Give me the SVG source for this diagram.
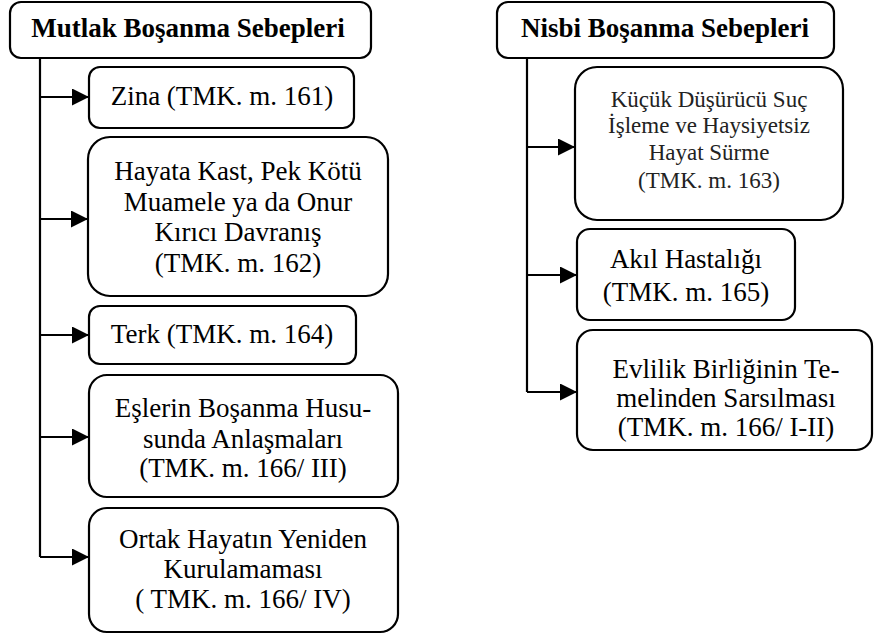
<svg xmlns="http://www.w3.org/2000/svg" width="874" height="636" viewBox="0 0 874 636">
<defs>
<marker id="ah" viewBox="0 0 16 16" refX="16" refY="8" markerWidth="17" markerHeight="17" markerUnits="userSpaceOnUse" orient="auto">
<path d="M0,0 L16,8 L0,16 Z" fill="#000"/>
</marker>
<style>
.box{fill:#fff;stroke:#000;stroke-width:2.2}
.t{fill:#000;text-anchor:middle}
.b{font-weight:bold}
.s{fill:#222}
.c{fill:none;stroke:#000;stroke-width:2.2}
</style>
</defs>
<g id="connectors">
<path class="c" d="M40,58 V557"/>
<path class="c" d="M40,97 H89" marker-end="url(#ah)"/>
<path class="c" d="M40,219 H88" marker-end="url(#ah)"/>
<path class="c" d="M40,335 H89" marker-end="url(#ah)"/>
<path class="c" d="M40,437 H89" marker-end="url(#ah)"/>
<path class="c" d="M40,557 H89" marker-end="url(#ah)"/>
<path class="c" d="M527,58 V392"/>
<path class="c" d="M527,147 H575" marker-end="url(#ah)"/>
<path class="c" d="M527,275 H577" marker-end="url(#ah)"/>
<path class="c" d="M527,392 H577" marker-end="url(#ah)"/>
</g>
<g id="mutlak" font-family="Liberation Serif" font-size="27">
<rect class="box" x="10" y="2" width="361" height="56" rx="11"/>
<text class="t b" x="188" y="37">Mutlak Boşanma Sebepleri</text>
</g>
<g id="zina" font-family="Liberation Serif" font-size="27">
<rect class="box" x="89" y="67" width="265" height="61" rx="11"/>
<text class="t" x="222" y="105">Zina (TMK. m. 161)</text>
</g>
<g id="hayata" font-family="Liberation Serif" font-size="27">
<rect class="box" x="88" y="137" width="300" height="159" rx="22"/>
<text class="t" x="238" y="180">Hayata Kast, Pek Kötü</text>
<text class="t" x="238" y="211">Muamele ya da Onur</text>
<text class="t" x="238" y="241">Kırıcı Davranış</text>
<text class="t" x="238" y="272">(TMK. m. 162)</text>
</g>
<g id="terk" font-family="Liberation Serif" font-size="27">
<rect class="box" x="89" y="306" width="267" height="58" rx="11"/>
<text class="t" x="222" y="343">Terk (TMK. m. 164)</text>
</g>
<g id="eslerin" font-family="Liberation Serif" font-size="27">
<rect class="box" x="89" y="375" width="309" height="122" rx="18"/>
<text class="t" x="243" y="417">Eşlerin Boşanma Husu-</text>
<text class="t" x="243" y="448">sunda Anlaşmaları</text>
<text class="t" x="243" y="477">(TMK. m. 166/ III)</text>
</g>
<g id="ortak" font-family="Liberation Serif" font-size="27">
<rect class="box" x="89" y="508" width="309" height="124" rx="18"/>
<text class="t" x="243" y="548">Ortak Hayatın Yeniden</text>
<text class="t" x="243" y="578">Kurulamaması</text>
<text class="t" x="243" y="608">( TMK. m. 166/ IV)</text>
</g>
<g id="nisbi" font-family="Liberation Serif" font-size="27">
<rect class="box" x="497" y="2" width="337" height="56" rx="11"/>
<text class="t b" x="665" y="37">Nisbi Boşanma Sebepleri</text>
</g>
<g id="kucuk" font-family="Liberation Serif" font-size="23">
<rect class="box" x="575" y="67" width="268" height="153" rx="22"/>
<text class="t s" x="709" y="107">Küçük Düşürücü Suç</text>
<text class="t s" x="709" y="133">İşleme ve Haysiyetsiz</text>
<text class="t s" x="709" y="160">Hayat Sürme</text>
<text class="t s" x="709" y="188">(TMK. m. 163)</text>
</g>
<g id="akil" font-family="Liberation Serif" font-size="27">
<rect class="box" x="577" y="229" width="218" height="91" rx="13"/>
<text class="t" x="686" y="268">Akıl Hastalığı</text>
<text class="t" x="686" y="301">(TMK. m. 165)</text>
</g>
<g id="evlilik" font-family="Liberation Serif" font-size="27">
<rect class="box" x="577" y="330" width="295" height="120" rx="16"/>
<text class="t" x="726" y="378">Evlilik Birliğinin Te-</text>
<text class="t" x="726" y="407">melinden Sarsılması</text>
<text class="t" x="726" y="436">(TMK. m. 166/ I-II)</text>
</g>
</svg>
